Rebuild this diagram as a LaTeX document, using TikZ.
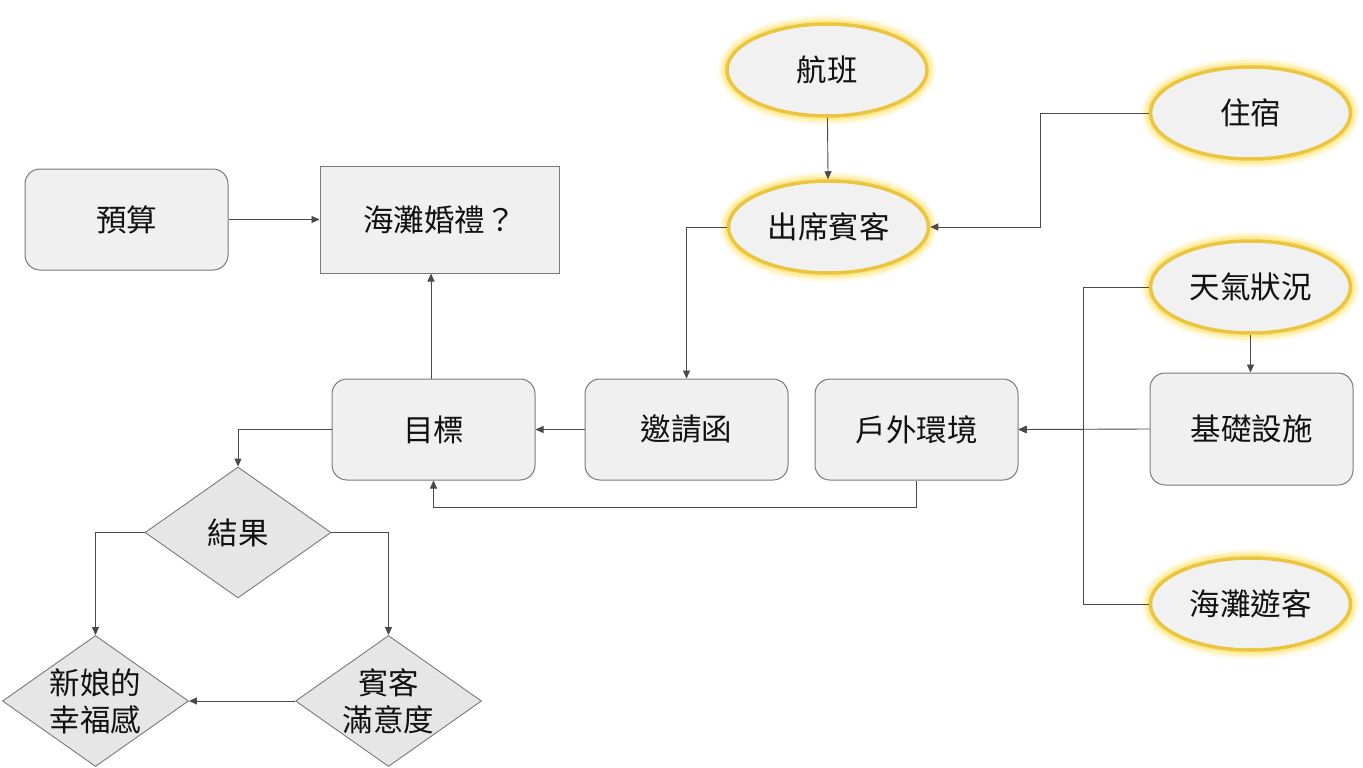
\documentclass[tikz,border=0pt]{standalone}
\usepackage{fontspec}
\setmainfont{Noto Sans CJK TC}
\usetikzlibrary{shapes.geometric,arrows.meta}
\definecolor{boxfill}{HTML}{F0F0F0}
\definecolor{boxline}{HTML}{7A7A7A}
\definecolor{diafill}{HTML}{E6E6E6}
\definecolor{gold}{HTML}{EBC540}
\definecolor{glowc}{HTML}{FFE25A}
\definecolor{ellfill}{HTML}{F1F1F1}
\definecolor{conn}{HTML}{4A4A4A}
\definecolor{txt}{HTML}{111111}
\begin{document}
\begin{tikzpicture}[x=1pt,y=-1pt,
  lbl/.style={font=\fontsize{30.5}{37}\selectfont, text=txt, align=center},
  box/.style={lbl, draw=boxline, fill=boxfill, rounded corners=15pt, minimum width=203pt, minimum height=101pt, inner sep=0pt, line width=1pt},
  sqbox/.style={box, rounded corners=0pt, minimum width=239pt, minimum height=107pt},
  glowell/.style={lbl, ellipse, draw=gold, line width=3.5pt, fill=ellfill, minimum width=200pt, minimum height=92pt, inner sep=0pt,
    preaction={draw=glowc, line width=18pt, opacity=0.15},
    preaction={draw=glowc, line width=13pt, opacity=0.25},
    preaction={draw=glowc, line width=8pt, opacity=0.45}},
  dia/.style={diamond, draw=boxline, fill=diafill, line width=0.9pt, minimum width=186pt, minimum height=131pt, inner sep=0pt},
  arr/.style={draw=conn, line width=0.9pt, -{Triangle[length=8pt,width=7pt]}}
]
\useasboundingbox[fill=white] (0,0) rectangle (1363,768);

% boxes
\node[box] (yusuan) at (126.5,219.5) {預算};
\node[sqbox] (wedding) at (439.5,219.5) {海灘婚禮？};
\node[box] (mubiao) at (433.5,429.5) {目標};
\node[box] (yaoqing) at (686.5,429.5) {邀請函};
\node[box] (huwai) at (916.5,429.5) {戶外環境};
\node[box, minimum height=112pt] (jichu) at (1251.5,429) {基礎設施};

% ellipses
\node[glowell] (hangban) at (827,70) {航班};
\node[glowell] (chuxi) at (828.5,227) {出席賓客};
\node[glowell] (zhusu) at (1250.5,113) {住宿};
\node[glowell] (tianqi) at (1250.5,287) {天氣狀況};
\node[glowell] (youke) at (1250.5,604) {海灘遊客};

% diamonds
\node[dia, label={[lbl]center:結果}] (jieguo) at (238,532.5) {};
\node[dia, label={[lbl]center:新娘的\\幸福感}] (xinniang) at (95.5,701) {};
\node[dia, label={[lbl]center:賓客\\滿意度}] (binke) at (388.5,701) {};

% connectors
\draw[arr] (mubiao.north -| 431,0) -- (wedding.south -| 431,0);
\draw[arr] (yusuan) -- (wedding);
\draw[arr] (yaoqing) -- (mubiao);
\draw[arr] (chuxi.west) -| (yaoqing.north);
\draw[arr] (hangban) -- (chuxi);
\draw[arr] (zhusu.west) -- ++(-108,0) |- (chuxi.east);
\draw[arr] (tianqi.west) -- ++(-65,0) |- (huwai.east);
\draw[arr] (youke.west) -- ++(-65,0) |- (huwai.east);
\draw[arr] (jichu.west) -- (huwai.east);
\draw[arr] (tianqi.south) -- (tianqi.south |- jichu.north);
\draw[arr] (huwai.south) -- ++(0,27) -| (mubiao.south);
\draw[arr] (mubiao.west) -| (jieguo.north);
\draw[arr] (jieguo.west) -| (xinniang.north);
\draw[arr] (jieguo.east) -| (binke.north);
\draw[arr] (binke.west) -- (xinniang.east);
\end{tikzpicture}
\end{document}
